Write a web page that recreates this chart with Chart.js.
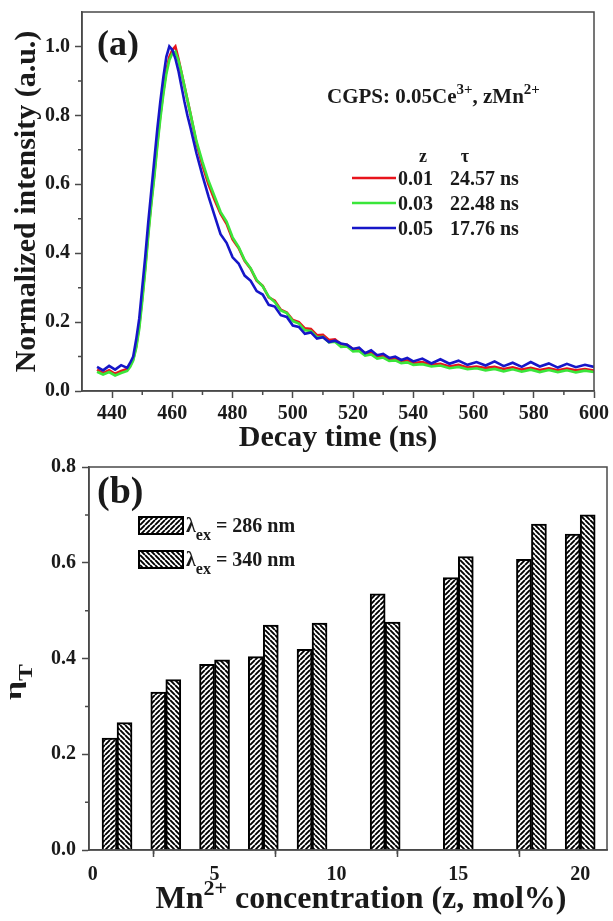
<!DOCTYPE html>
<html>
<head>
<meta charset="utf-8">
<script src="https://cdn.jsdelivr.net/npm/chart.js@4.4.1/dist/chart.umd.min.js"></script>
<style>
  html, body { margin: 0; padding: 0; background: #fff; }
  #wrap { position: relative; width: 613px; height: 921px; }
  #decay { position: absolute; left: 0; top: 0; }
  #eff { position: absolute; left: 0; top: 450px; }
</style>
</head>
<body>
<div id="wrap">
  <canvas id="decay" width="613" height="462"></canvas>
  <canvas id="eff" width="613" height="471"></canvas>
</div>
<script>
// ---- panel (a): decay curves ----
const decayTimes = [
  435, 437, 439, 441, 443, 445, 446, 447, 448, 449,
  450, 451, 452, 453, 454, 455, 456, 457, 458, 459,
  460, 461, 462, 463, 464, 465, 466, 468, 470, 472,
  474, 476, 478, 480, 482, 484, 486, 488, 490, 492,
  494, 496, 498, 500, 502, 504, 506, 508, 510, 512,
  514, 516, 518, 520, 522, 524, 526, 528, 530, 532,
  534, 536, 538, 540, 543, 546, 549, 552, 555, 558,
  561, 564, 567, 570, 573, 576, 579, 582, 585, 588,
  591, 594, 597, 600
];
const intensityZ001 = [
  .062, .052, .06, .05, .058, .064, .074, .092, .13, .19,
  .27, .36, .46, .55, .63, .72, .80, .87, .93, .97,
  .99, 1.0, .965, .925, .885, .845, .805, .72, .655, .60,
  .555, .515, .485, .44, .415, .378, .355, .32, .305, .272,
  .262, .236, .228, .206, .20, .182, .18, .162, .163, .148,
  .15, .136, .134, .122, .122, .11, .112, .10, .102, .092,
  .095, .086, .089, .081, .084, .076, .079, .071, .076, .068,
  .071, .067, .07, .064, .069, .062, .067, .061, .066, .06,
  .065, .06, .064, .059
];
const intensityZ003 = [
  .056, .048, .055, .045, .052, .058, .07, .088, .125, .18,
  .26, .35, .45, .54, .62, .71, .79, .86, .92, .96,
  .98, .985, .96, .925, .885, .845, .805, .725, .665, .61,
  .565, .52, .492, .446, .418, .38, .356, .322, .304, .274,
  .258, .234, .226, .203, .196, .176, .174, .156, .157, .141,
  .143, .128, .129, .115, .116, .103, .106, .094, .097, .087,
  .089, .081, .083, .076, .078, .071, .074, .066, .07, .063,
  .066, .06, .064, .057, .063, .056, .062, .055, .061, .055,
  .06, .054, .059, .055
];
const intensityZ005 = [
  .07, .06, .073, .062, .075, .067, .082, .10, .15, .21,
  .30, .39, .49, .58, .67, .76, .84, .91, .97, 1.0,
  .99, .965, .93, .885, .84, .80, .765, .69, .625, .565,
  .51, .455, .43, .388, .37, .335, .32, .29, .28, .25,
  .245, .22, .215, .19, .186, .166, .17, .152, .156, .142,
  .146, .138, .134, .122, .126, .11, .118, .104, .108, .096,
  .10, .09, .096, .086, .094, .08, .092, .079, .088, .076,
  .084, .074, .086, .072, .082, .07, .084, .071, .08, .068,
  .079, .069, .076, .07
];
const zValues = ['0.01', '0.03', '0.05'];
const tauValues = ['24.57 ns', '22.48 ns', '17.76 ns'];
const timeTicks = [440, 460, 480, 500, 520, 540, 560, 580, 600];
const timeMinorTicks = [450, 470, 490, 510, 530, 550, 570, 590];
const intensityTicks = [0, 0.2, 0.4, 0.6, 0.8, 1.0];
const intensityMinorTicks = [0.1, 0.3, 0.5, 0.7, 0.9];

// ---- panel (b): energy transfer efficiency ----
const mnConc = [1, 3, 5, 7, 9, 12, 15, 18, 20];
const etaEx286 = [0.234, 0.330, 0.388, 0.404, 0.419, 0.535, 0.569, 0.607, 0.660];
const etaEx340 = [0.266, 0.356, 0.397, 0.470, 0.474, 0.476, 0.613, 0.681, 0.700];
const exLabels = ['286 nm', '340 nm'];
const concTicks = [0, 5, 10, 15, 20];
const concMinorTicks = [2.5, 7.5, 12.5, 17.5];
const etaTicks = [0, 0.2, 0.4, 0.6, 0.8];
const etaMinorTicks = [0.1, 0.3, 0.5, 0.7];

const serif = "'Liberation Serif', 'Times New Roman', serif";
const ink = '#1a1a1a';
const axisCol = '#4a4a4a';
const lineCols = ['#e8141c', '#3ae63a', '#1616c8'];

Chart.defaults.font.family = serif;
Chart.defaults.font.weight = 'bold';
Chart.defaults.color = ink;

function richText(ctx, parts, x, y) {
  let cx = x;
  parts.forEach(([t, size, dy]) => {
    ctx.font = 'bold ' + size + 'px ' + serif;
    ctx.fillText(t, cx, y + (dy || 0));
    cx += ctx.measureText(t).width;
  });
  return cx;
}
function richWidth(ctx, parts) {
  let w = 0;
  parts.forEach(([t, size]) => {
    ctx.font = 'bold ' + size + 'px ' + serif;
    w += ctx.measureText(t).width;
  });
  return w;
}

function hatch(dir) {
  const s = 5;
  const c = document.createElement('canvas');
  c.width = s; c.height = s;
  const g = c.getContext('2d');
  g.fillStyle = '#fff';
  g.fillRect(0, 0, s, s);
  g.strokeStyle = '#000';
  g.lineWidth = 1.9;
  g.beginPath();
  for (let k = -1; k <= 1; k++) {
    if (dir > 0) { g.moveTo(k * s, s); g.lineTo(k * s + s, 0); }
    else { g.moveTo(k * s, 0); g.lineTo(k * s + s, s); }
  }
  g.stroke();
  return g.createPattern(c, 'repeat');
}
const hatch286 = hatch(1);
const hatch340 = hatch(-1);

// frame round the plot + short minor ticks
const framePlugin = {
  id: 'frame',
  afterDraw(chart, args, opts) {
    const { ctx, chartArea: a, scales } = chart;
    ctx.save();
    ctx.strokeStyle = axisCol;
    ctx.lineWidth = 1.5;
    ctx.strokeRect(a.left, a.top, a.right - a.left, a.bottom - a.top);
    ctx.beginPath();
    (opts.xMinor || []).forEach(v => {
      const px = scales.x.getPixelForValue(v);
      ctx.moveTo(px, a.bottom); ctx.lineTo(px, a.bottom + 4);
    });
    (opts.yMinor || []).forEach(v => {
      const py = scales.y.getPixelForValue(v);
      ctx.moveTo(a.left, py); ctx.lineTo(a.left - 4, py);
    });
    ctx.stroke();
    ctx.restore();
  }
};

function fixTicks(list) {
  return scale => { scale.ticks = list.map(v => ({ value: v })); };
}
function axisBase() {
  return {
    border: { display: true, color: axisCol, width: 1.5 },
    grid: { drawOnChartArea: false, drawTicks: true, tickLength: 7, tickWidth: 1.5, tickColor: axisCol }
  };
}

// ---------- chart (a) ----------
const notesA = {
  id: 'notesA',
  afterDraw(chart) {
    const ctx = chart.ctx;
    ctx.save();
    ctx.fillStyle = ink;
    ctx.textAlign = 'left';
    ctx.textBaseline = 'alphabetic';
    richText(ctx, [['(a)', 36]], 97, 55);
    richText(ctx, [['CGPS: 0.05Ce', 21], ['3+', 15, -9], [', zMn', 21], ['2+', 15, -9]], 327, 103);
    ctx.font = 'bold 18px ' + serif;
    ctx.textAlign = 'center';
    ctx.fillText('z', 423, 162);
    ctx.fillText('τ', 465, 162);
    ctx.textAlign = 'left';
    zValues.forEach((z, i) => {
      const y = 178 + i * 25;
      ctx.strokeStyle = lineCols[i];
      ctx.lineWidth = 2.5;
      ctx.beginPath(); ctx.moveTo(352, y); ctx.lineTo(396, y); ctx.stroke();
      ctx.font = 'bold 20px ' + serif;
      ctx.fillText(z, 398, y + 7);
      ctx.fillText(tauValues[i], 450, y + 7);
    });
    ctx.restore();
  }
};

const seriesA = [intensityZ001, intensityZ003, intensityZ005];
new Chart(document.getElementById('decay'), {
  type: 'line',
  data: {
    datasets: seriesA.map((vals, i) => ({
      label: 'z = ' + zValues[i],
      data: decayTimes.map((t, j) => ({ x: t, y: vals[j] })),
      borderColor: lineCols[i],
      borderWidth: 2.6,
      pointRadius: 0,
      tension: 0,
      fill: false,
      order: 3 - i
    }))
  },
  options: {
    responsive: false,
    animation: false,
    events: [],
    layout: { padding: { left: 0, right: 19, top: 12, bottom: 0 } },
    plugins: {
      legend: { display: false },
      tooltip: { enabled: false },
      frame: { xMinor: timeMinorTicks, yMinor: intensityMinorTicks }
    },
    scales: {
      x: Object.assign(axisBase(), {
        type: 'linear', min: 430, max: 600,
        afterBuildTicks: fixTicks(timeTicks),
        afterFit: s => { s.height = 71; s.paddingLeft = 0; s.paddingRight = 0; },
        ticks: { font: { size: 20, weight: 'bold' }, padding: 4, maxRotation: 0, color: ink, callback: v => String(v) },
        title: { display: true, text: 'Decay time (ns)', font: { size: 30, weight: 'bold' }, padding: { top: 0, bottom: 6 }, color: ink }
      }),
      y: Object.assign(axisBase(), {
        type: 'linear', min: 0, max: 1.1,
        afterBuildTicks: fixTicks(intensityTicks),
        afterFit: s => { s.width = 82; s.paddingTop = 0; s.paddingBottom = 0; },
        ticks: { font: { size: 20, weight: 'bold' }, padding: 5, color: ink, callback: v => v.toFixed(1) },
        title: { display: true, text: 'Normalized intensity (a.u.)', font: { size: 30, weight: 'bold' }, padding: { top: 9, bottom: 0 }, color: ink }
      })
    }
  },
  plugins: [framePlugin, notesA]
});

// ---------- chart (b) ----------
const notesB = {
  id: 'notesB',
  afterDraw(chart) {
    const ctx = chart.ctx;
    ctx.save();
    ctx.fillStyle = ink;
    ctx.textAlign = 'left';
    ctx.textBaseline = 'alphabetic';
    richText(ctx, [['(b)', 38]], 97, 53);

    // legend
    [hatch286, hatch340].forEach((pat, i) => {
      const top = 67 + i * 34;
      ctx.fillStyle = pat;
      ctx.fillRect(139, top, 44, 17);
      ctx.strokeStyle = '#000';
      ctx.lineWidth = 2;
      ctx.strokeRect(139, top, 44, 17);
      ctx.fillStyle = ink;
      richText(ctx, [['λ', 20], ['ex', 16, 8], [' = ' + exLabels[i], 20]], 186, top + 15);
    });

    // x title with superscript
    const parts = [['Mn', 32], ['2+', 22, -13], [' concentration (z, mol%)', 32]];
    const w = richWidth(ctx, parts);
    richText(ctx, parts, 361 - w / 2, 458);

    // y title: eta_T, rotated
    ctx.translate(21, 250);
    ctx.rotate(-Math.PI / 2);
    ctx.scale(1.4, 1);
    ctx.font = 'bold 24px ' + serif;
    ctx.fillText('η', 0, 0);
    const ew = ctx.measureText('η').width;
    ctx.font = 'bold 18px ' + serif;
    ctx.fillText('T', ew, 11);
    ctx.restore();
  }
};

new Chart(document.getElementById('eff'), {
  type: 'bar',
  data: {
    datasets: [
      { label: 'λex = ' + exLabels[0], data: mnConc.map((z, i) => ({ x: z, y: etaEx286[i] })), backgroundColor: hatch286, borderColor: '#000', borderWidth: 2, barThickness: 15 },
      { label: 'λex = ' + exLabels[1], data: mnConc.map((z, i) => ({ x: z, y: etaEx340[i] })), backgroundColor: hatch340, borderColor: '#000', borderWidth: 2, barThickness: 15 }
    ]
  },
  options: {
    responsive: false,
    animation: false,
    events: [],
    layout: { padding: { left: 0, right: 6, top: 17, bottom: 0 } },
    plugins: {
      legend: { display: false },
      tooltip: { enabled: false },
      frame: { xMinor: concMinorTicks, yMinor: etaMinorTicks }
    },
    scales: {
      x: Object.assign(axisBase(), {
        type: 'linear', min: -0.15, max: 21.1, offset: false,
        afterBuildTicks: fixTicks(concTicks),
        afterFit: s => { s.height = 71; s.paddingLeft = 0; s.paddingRight = 0; },
        ticks: { font: { size: 20, weight: 'bold' }, padding: 6, maxRotation: 0, color: ink, callback: v => String(v) }
      }),
      y: Object.assign(axisBase(), {
        type: 'linear', min: 0, max: 0.8,
        afterBuildTicks: fixTicks(etaTicks),
        afterFit: s => { s.width = 89; s.paddingTop = 0; s.paddingBottom = 0; },
        ticks: { font: { size: 20, weight: 'bold' }, padding: 6, color: ink, callback: v => v.toFixed(1) }
      })
    }
  },
  plugins: [framePlugin, notesB]
});
</script>
</body>
</html>
